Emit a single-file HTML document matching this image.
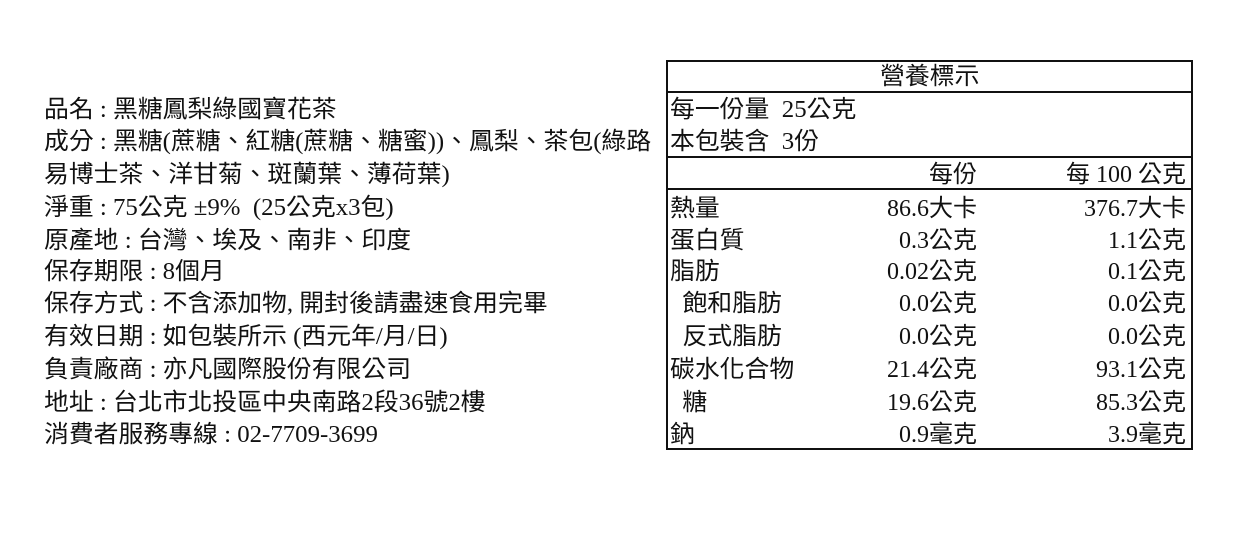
<!DOCTYPE html>
<html><head><meta charset="utf-8"><style>
body{margin:0;width:1240px;height:543px;background:#fff;position:relative;overflow:hidden;font-family:"Liberation Serif","Noto Sans CJK TC",serif;color:#111}
.t{position:absolute;font-size:24px;line-height:30px;white-space:pre;transform:scaleX(1.035);transform-origin:left center}
.r{position:absolute;font-size:24px;line-height:30px;white-space:pre;text-align:right;transform:scaleX(1.0);transform-origin:right center}
.box{position:absolute;left:666px;top:60px;width:523px;height:386px;border:2px solid #111}
.h{position:absolute;left:666px;width:525px;height:2px;background:#111}
</style></head><body>
<div class="t" style="left:44px;top:95px">品名 : 黑糖鳳梨綠國寶花茶</div>
<div class="t" style="left:44px;top:127px">成分 : 黑糖(蔗糖、紅糖(蔗糖、糖蜜))、鳳梨、茶包(綠路</div>
<div class="t" style="left:44px;top:160px">易博士茶、洋甘菊、斑蘭葉、薄荷葉)</div>
<div class="t" style="left:44px;top:193px">淨重 : 75公克 ±9%  (25公克x3包)</div>
<div class="t" style="left:44px;top:226px">原產地 : 台灣、埃及、南非、印度</div>
<div class="t" style="left:44px;top:257px">保存期限 : 8個月</div>
<div class="t" style="left:44px;top:289px">保存方式 : 不含添加物, 開封後請盡速食用完畢</div>
<div class="t" style="left:44px;top:322px">有效日期 : 如包裝所示 (西元年/月/日)</div>
<div class="t" style="left:44px;top:355px">負責廠商 : 亦凡國際股份有限公司</div>
<div class="t" style="left:44px;top:388px">地址 : 台北市北投區中央南路2段36號2樓</div>
<div class="t" style="left:44px;top:420px">消費者服務專線 : 02-7709-3699</div>

<div class="box"></div>
<div class="h" style="top:91px"></div>
<div class="h" style="top:156px"></div>
<div class="h" style="top:188px"></div>

<div class="t" style="left:880px;top:62px">營養標示</div>
<div class="t" style="left:670px;top:95px">每一份量  25公克</div>
<div class="t" style="left:670px;top:127px">本包裝含  3份</div>
<div class="r" style="right:263px;top:160px">每份</div>
<div class="r" style="right:54px;top:160px">每 100 公克</div>

<div class="t" style="left:670px;top:194px">熱量</div>
<div class="t" style="left:670px;top:226px">蛋白質</div>
<div class="t" style="left:670px;top:257px">脂肪</div>
<div class="t" style="left:670px;top:289px">  飽和脂肪</div>
<div class="t" style="left:670px;top:322px">  反式脂肪</div>
<div class="t" style="left:670px;top:355px">碳水化合物</div>
<div class="t" style="left:670px;top:388px">  糖</div>
<div class="t" style="left:670px;top:420px">鈉</div>

<div class="r" style="right:263px;top:194px">86.6大卡</div>
<div class="r" style="right:263px;top:226px">0.3公克</div>
<div class="r" style="right:263px;top:257px">0.02公克</div>
<div class="r" style="right:263px;top:289px">0.0公克</div>
<div class="r" style="right:263px;top:322px">0.0公克</div>
<div class="r" style="right:263px;top:355px">21.4公克</div>
<div class="r" style="right:263px;top:388px">19.6公克</div>
<div class="r" style="right:263px;top:420px">0.9毫克</div>

<div class="r" style="right:54px;top:194px">376.7大卡</div>
<div class="r" style="right:54px;top:226px">1.1公克</div>
<div class="r" style="right:54px;top:257px">0.1公克</div>
<div class="r" style="right:54px;top:289px">0.0公克</div>
<div class="r" style="right:54px;top:322px">0.0公克</div>
<div class="r" style="right:54px;top:355px">93.1公克</div>
<div class="r" style="right:54px;top:388px">85.3公克</div>
<div class="r" style="right:54px;top:420px">3.9毫克</div>
</body></html>
